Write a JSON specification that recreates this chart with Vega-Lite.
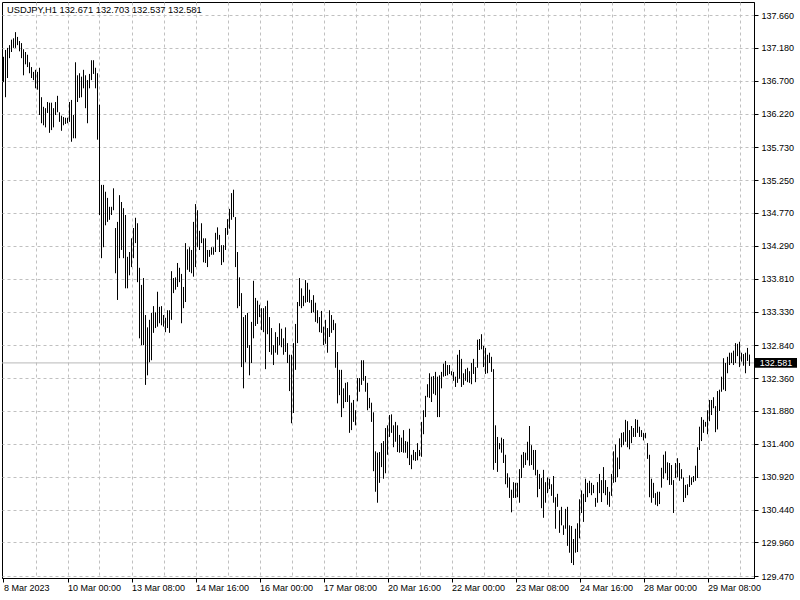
{
"$schema":"https://vega.github.io/schema/vega-lite/v6.json",
"width":752,"height":576,
"autosize":{"type":"none"},
"padding":{"left":2,"top":2,"right":46,"bottom":22},
"background":"white",
"config":{"view":{"stroke":"black","strokeWidth":1},"font":"Liberation Sans"},
"title":{"text":"USDJPY,H1  132.671 132.703 132.537 132.581","anchor":"start","frame":"group","orient":"top","offset":-13,"dx":5,"fontSize":9.3,"fontWeight":"normal","color":"black","font":"Liberation Sans"},
"datasets":{"bars":[
{"i":0,"h":137.05,"l":136.68},{"i":1,"h":137.15,"l":136.46},{"i":2,"h":137.18,"l":136.74},{"i":3,"h":137.22,"l":137.03},{"i":4,"h":137.30,"l":137.12},{"i":5,"h":137.32,"l":137.18},{"i":6,"h":137.41,"l":137.18},{"i":7,"h":137.34,"l":137.22},{"i":8,"h":137.28,"l":137.13},{"i":9,"h":137.25,"l":137.03},
{"i":10,"h":137.16,"l":136.78},{"i":11,"h":137.12,"l":136.94},{"i":12,"h":137.08,"l":136.90},{"i":13,"h":136.97,"l":136.81},{"i":14,"h":136.90,"l":136.74},{"i":15,"h":136.83,"l":136.71},{"i":16,"h":136.86,"l":136.59},{"i":17,"h":136.83,"l":136.57},{"i":18,"h":136.89,"l":136.20},{"i":19,"h":136.46,"l":136.08},
{"i":20,"h":136.32,"l":136.05},{"i":21,"h":136.30,"l":136.02},{"i":22,"h":136.39,"l":136.23},{"i":23,"h":136.38,"l":135.94},{"i":24,"h":136.38,"l":135.98},{"i":25,"h":136.30,"l":136.02},{"i":26,"h":136.39,"l":136.20},{"i":27,"h":136.48,"l":136.24},{"i":28,"h":136.24,"l":136.10},{"i":29,"h":136.19,"l":135.97},
{"i":30,"h":136.17,"l":136.05},{"i":31,"h":136.16,"l":136.07},{"i":32,"h":136.16,"l":136.08},{"i":33,"h":136.39,"l":136.10},{"i":34,"h":136.42,"l":135.81},{"i":35,"h":136.20,"l":135.86},{"i":36,"h":136.97,"l":135.86},{"i":37,"h":136.78,"l":136.39},{"i":38,"h":136.81,"l":136.45},{"i":39,"h":136.76,"l":136.46},
{"i":40,"h":136.86,"l":136.59},{"i":41,"h":136.78,"l":136.30},{"i":42,"h":136.71,"l":136.08},{"i":43,"h":136.80,"l":136.59},{"i":44,"h":137.00,"l":136.71},{"i":45,"h":137.00,"l":136.80},{"i":46,"h":136.89,"l":136.59},{"i":47,"h":136.81,"l":135.84},{"i":48,"h":136.35,"l":134.74},{"i":49,"h":135.18,"l":134.11},
{"i":50,"h":135.18,"l":134.27},{"i":51,"h":135.08,"l":134.59},{"i":52,"h":134.99,"l":134.64},{"i":53,"h":134.86,"l":134.67},{"i":54,"h":134.86,"l":134.74},{"i":55,"h":135.13,"l":134.81},{"i":56,"h":134.55,"l":133.89},{"i":57,"h":134.64,"l":133.50},{"i":58,"h":135.03,"l":134.11},{"i":59,"h":134.93,"l":134.23},
{"i":60,"h":134.84,"l":134.11},{"i":61,"h":134.74,"l":133.67},{"i":62,"h":134.13,"l":133.67},{"i":63,"h":134.20,"l":133.86},{"i":64,"h":134.40,"l":133.98},{"i":65,"h":134.55,"l":134.11},{"i":66,"h":134.70,"l":134.33},{"i":67,"h":134.62,"l":133.76},{"i":68,"h":133.97,"l":132.94},{"i":69,"h":133.72,"l":132.84},
{"i":70,"h":133.82,"l":132.84},{"i":71,"h":133.28,"l":132.26},{"i":72,"h":133.10,"l":132.40},{"i":73,"h":133.21,"l":132.59},{"i":74,"h":133.31,"l":132.62},{"i":75,"h":133.41,"l":133.02},{"i":76,"h":133.32,"l":133.09},{"i":77,"h":133.62,"l":133.11},{"i":78,"h":133.40,"l":133.16},{"i":79,"h":133.41,"l":133.13},
{"i":80,"h":133.28,"l":133.11},{"i":81,"h":133.24,"l":133.03},{"i":82,"h":133.35,"l":133.09},{"i":83,"h":133.35,"l":133.02},{"i":84,"h":133.92,"l":133.21},{"i":85,"h":133.82,"l":133.60},{"i":86,"h":133.83,"l":133.65},{"i":87,"h":134.04,"l":133.69},{"i":88,"h":133.97,"l":133.76},{"i":89,"h":133.88,"l":133.16},
{"i":90,"h":133.69,"l":133.38},{"i":91,"h":134.33,"l":133.47},{"i":92,"h":134.24,"l":133.94},{"i":93,"h":134.27,"l":133.91},{"i":94,"h":134.23,"l":133.89},{"i":95,"h":134.64,"l":133.84},{"i":96,"h":134.90,"l":133.98},{"i":97,"h":134.81,"l":134.27},{"i":98,"h":134.51,"l":134.23},{"i":99,"h":134.62,"l":134.33},
{"i":100,"h":134.40,"l":134.05},{"i":101,"h":134.40,"l":134.04},{"i":102,"h":134.23,"l":133.98},{"i":103,"h":134.23,"l":134.13},{"i":104,"h":134.27,"l":134.16},{"i":105,"h":134.27,"l":134.16},{"i":106,"h":134.48,"l":134.20},{"i":107,"h":134.56,"l":134.38},{"i":108,"h":134.45,"l":134.20},{"i":109,"h":134.30,"l":134.01},
{"i":110,"h":134.30,"l":134.05},{"i":111,"h":134.55,"l":134.23},{"i":112,"h":134.68,"l":134.45},{"i":113,"h":134.83,"l":134.54},{"i":114,"h":135.06,"l":134.67},{"i":115,"h":135.11,"l":134.71},{"i":116,"h":134.71,"l":133.98},{"i":117,"h":134.20,"l":133.38},{"i":118,"h":133.83,"l":133.41},{"i":119,"h":133.60,"l":132.52},
{"i":120,"h":133.25,"l":132.21},{"i":121,"h":133.28,"l":132.59},{"i":122,"h":133.31,"l":132.80},{"i":123,"h":132.84,"l":132.40},{"i":124,"h":133.18,"l":132.58},{"i":125,"h":133.78,"l":132.94},{"i":126,"h":133.53,"l":133.12},{"i":127,"h":133.49,"l":133.15},{"i":128,"h":133.43,"l":133.25},{"i":129,"h":133.38,"l":133.06},
{"i":130,"h":133.38,"l":133.03},{"i":131,"h":133.41,"l":132.49},{"i":132,"h":133.49,"l":133.00},{"i":133,"h":133.25,"l":132.74},{"i":134,"h":133.09,"l":132.70},{"i":135,"h":132.84,"l":132.55},{"i":136,"h":133.03,"l":132.73},{"i":137,"h":132.96,"l":132.70},{"i":138,"h":133.16,"l":132.84},{"i":139,"h":133.08,"l":132.81},
{"i":140,"h":132.94,"l":132.70},{"i":141,"h":133.10,"l":132.74},{"i":142,"h":132.87,"l":132.58},{"i":143,"h":132.70,"l":132.17},{"i":144,"h":132.70,"l":131.70},{"i":145,"h":132.87,"l":131.85},{"i":146,"h":133.15,"l":132.48},{"i":147,"h":133.47,"l":132.87},{"i":148,"h":133.82,"l":133.41},{"i":149,"h":133.67,"l":133.38},
{"i":150,"h":133.56,"l":133.41},{"i":151,"h":133.79,"l":133.46},{"i":152,"h":133.75,"l":133.47},{"i":153,"h":133.65,"l":133.46},{"i":154,"h":133.50,"l":133.31},{"i":155,"h":133.57,"l":133.32},{"i":156,"h":133.46,"l":133.18},{"i":157,"h":133.35,"l":133.16},{"i":158,"h":133.25,"l":133.03},{"i":159,"h":133.34,"l":133.02},
{"i":160,"h":133.11,"l":132.84},{"i":161,"h":133.21,"l":132.86},{"i":162,"h":133.09,"l":132.73},{"i":163,"h":133.35,"l":132.96},{"i":164,"h":133.28,"l":133.02},{"i":165,"h":133.21,"l":133.06},{"i":166,"h":133.16,"l":132.51},{"i":167,"h":132.74,"l":131.99},{"i":168,"h":132.48,"l":132.11},{"i":169,"h":132.48,"l":131.79},
{"i":170,"h":132.21,"l":131.92},{"i":171,"h":132.29,"l":132.01},{"i":172,"h":132.30,"l":132.01},{"i":173,"h":132.11,"l":131.56},{"i":174,"h":132.00,"l":131.60},{"i":175,"h":132.04,"l":131.72},{"i":176,"h":131.89,"l":131.67},{"i":177,"h":132.36,"l":132.02},{"i":178,"h":132.36,"l":132.16},{"i":179,"h":132.62,"l":132.26},
{"i":180,"h":132.62,"l":132.32},{"i":181,"h":132.39,"l":132.16},{"i":182,"h":132.29,"l":131.89},{"i":183,"h":132.07,"l":131.92},{"i":184,"h":132.00,"l":131.72},{"i":185,"h":131.86,"l":131.00},{"i":186,"h":131.29,"l":130.70},{"i":187,"h":131.27,"l":130.54},{"i":188,"h":131.28,"l":130.83},{"i":189,"h":131.41,"l":131.06},
{"i":190,"h":131.44,"l":130.89},{"i":191,"h":131.63,"l":130.97},{"i":192,"h":131.67,"l":131.24},{"i":193,"h":131.82,"l":131.50},{"i":194,"h":131.83,"l":131.56},{"i":195,"h":131.67,"l":131.35},{"i":196,"h":131.72,"l":131.43},{"i":197,"h":131.67,"l":131.28},{"i":198,"h":131.53,"l":131.27},{"i":199,"h":131.49,"l":131.28},
{"i":200,"h":131.60,"l":131.27},{"i":201,"h":131.44,"l":131.27},{"i":202,"h":131.43,"l":131.19},{"i":203,"h":131.62,"l":131.09},{"i":204,"h":131.24,"l":131.03},{"i":205,"h":131.31,"l":131.16},{"i":206,"h":131.28,"l":131.15},{"i":207,"h":131.41,"l":131.16},{"i":208,"h":131.31,"l":131.22},{"i":209,"h":131.72,"l":131.21},
{"i":210,"h":131.89,"l":131.54},{"i":211,"h":132.10,"l":131.79},{"i":212,"h":132.27,"l":132.08},{"i":213,"h":132.43,"l":132.07},{"i":214,"h":132.38,"l":132.01},{"i":215,"h":132.39,"l":132.13},{"i":216,"h":132.45,"l":132.11},{"i":217,"h":132.38,"l":131.79},{"i":218,"h":132.40,"l":131.79},{"i":219,"h":132.45,"l":132.21},
{"i":220,"h":132.57,"l":132.38},{"i":221,"h":132.61,"l":132.39},{"i":222,"h":132.55,"l":132.40},{"i":223,"h":132.55,"l":132.42},{"i":224,"h":132.46,"l":132.40},{"i":225,"h":132.45,"l":132.32},{"i":226,"h":132.38,"l":132.23},{"i":227,"h":132.70,"l":132.29},{"i":228,"h":132.77,"l":132.35},{"i":229,"h":132.64,"l":132.23},
{"i":230,"h":132.43,"l":132.26},{"i":231,"h":132.49,"l":132.32},{"i":232,"h":132.51,"l":132.30},{"i":233,"h":132.46,"l":132.29},{"i":234,"h":132.58,"l":132.27},{"i":235,"h":132.64,"l":132.42},{"i":236,"h":132.52,"l":132.30},{"i":237,"h":132.92,"l":132.51},{"i":238,"h":132.93,"l":132.77},{"i":239,"h":133.00,"l":132.78},
{"i":240,"h":132.83,"l":132.52},{"i":241,"h":132.80,"l":132.42},{"i":242,"h":132.70,"l":132.43},{"i":243,"h":132.73,"l":132.58},{"i":244,"h":132.67,"l":132.45},{"i":245,"h":132.49,"l":131.02},{"i":246,"h":131.67,"l":131.12},{"i":247,"h":131.50,"l":130.99},{"i":248,"h":131.41,"l":131.32},{"i":249,"h":131.49,"l":131.27},
{"i":250,"h":131.47,"l":131.12},{"i":251,"h":131.24,"l":130.81},{"i":252,"h":130.97,"l":130.76},{"i":253,"h":130.91,"l":130.61},{"i":254,"h":130.73,"l":130.40},{"i":255,"h":130.84,"l":130.61},{"i":256,"h":130.83,"l":130.61},{"i":257,"h":130.83,"l":130.62},{"i":258,"h":131.03,"l":130.54},{"i":259,"h":131.24,"l":130.90},
{"i":260,"h":131.28,"l":131.05},{"i":261,"h":131.27,"l":131.09},{"i":262,"h":131.43,"l":131.16},{"i":263,"h":131.66,"l":131.08},{"i":264,"h":131.38,"l":131.09},{"i":265,"h":131.31,"l":131.02},{"i":266,"h":131.31,"l":130.94},{"i":267,"h":131.02,"l":130.62},{"i":268,"h":130.96,"l":130.74},{"i":269,"h":130.90,"l":130.46},
{"i":270,"h":131.02,"l":130.32},{"i":271,"h":130.84,"l":130.54},{"i":272,"h":130.91,"l":130.68},{"i":273,"h":130.89,"l":130.74},{"i":274,"h":130.81,"l":130.64},{"i":275,"h":130.93,"l":130.54},{"i":276,"h":130.62,"l":130.16},{"i":277,"h":130.67,"l":130.48},{"i":278,"h":130.43,"l":130.10},{"i":279,"h":130.48,"l":130.21},
{"i":280,"h":130.21,"l":130.07},{"i":281,"h":130.45,"l":130.16},{"i":282,"h":130.48,"l":129.91},{"i":283,"h":130.21,"l":129.81},{"i":284,"h":130.20,"l":129.66},{"i":285,"h":130.01,"l":129.63},{"i":286,"h":130.16,"l":129.81},{"i":287,"h":130.24,"l":129.82},{"i":288,"h":130.59,"l":130.02},{"i":289,"h":130.72,"l":130.39},
{"i":290,"h":130.67,"l":130.26},{"i":291,"h":130.89,"l":130.55},{"i":292,"h":130.83,"l":130.62},{"i":293,"h":130.86,"l":130.68},{"i":294,"h":130.83,"l":130.65},{"i":295,"h":130.80,"l":130.68},{"i":296,"h":130.61,"l":130.48},{"i":297,"h":130.84,"l":130.54},{"i":298,"h":130.96,"l":130.68},{"i":299,"h":130.87,"l":130.55},
{"i":300,"h":131.06,"l":130.68},{"i":301,"h":130.87,"l":130.65},{"i":302,"h":130.77,"l":130.51},{"i":303,"h":130.70,"l":130.48},{"i":304,"h":130.96,"l":130.64},{"i":305,"h":131.29,"l":130.83},{"i":306,"h":131.39,"l":130.84},{"i":307,"h":131.20,"l":130.91},{"i":308,"h":131.48,"l":131.03},{"i":309,"h":131.56,"l":131.35},
{"i":310,"h":131.57,"l":131.38},{"i":311,"h":131.75,"l":131.43},{"i":312,"h":131.73,"l":131.35},{"i":313,"h":131.60,"l":131.32},{"i":314,"h":131.66,"l":131.41},{"i":315,"h":131.63,"l":131.50},{"i":316,"h":131.76,"l":131.50},{"i":317,"h":131.75,"l":131.56},{"i":318,"h":131.65,"l":131.50},{"i":319,"h":131.60,"l":131.50},
{"i":320,"h":131.56,"l":131.45},{"i":321,"h":131.56,"l":131.48},{"i":322,"h":131.41,"l":131.18},{"i":323,"h":131.24,"l":130.62},{"i":324,"h":130.89,"l":130.54},{"i":325,"h":130.83,"l":130.61},{"i":326,"h":130.68,"l":130.51},{"i":327,"h":130.70,"l":130.49},{"i":328,"h":130.70,"l":130.52},{"i":329,"h":131.05,"l":130.76},
{"i":330,"h":131.24,"l":130.89},{"i":331,"h":131.29,"l":130.97},{"i":332,"h":131.13,"l":130.87},{"i":333,"h":131.12,"l":130.80},{"i":334,"h":131.09,"l":130.80},{"i":335,"h":130.87,"l":130.39},{"i":336,"h":131.12,"l":130.90},{"i":337,"h":131.19,"l":130.91},{"i":338,"h":131.12,"l":130.86},{"i":339,"h":131.03,"l":130.89},
{"i":340,"h":130.91,"l":130.55},{"i":341,"h":130.80,"l":130.61},{"i":342,"h":130.81,"l":130.65},{"i":343,"h":130.94,"l":130.77},{"i":344,"h":130.91,"l":130.80},{"i":345,"h":130.93,"l":130.84},{"i":346,"h":131.08,"l":130.86},{"i":347,"h":131.35,"l":130.90},{"i":348,"h":131.65,"l":131.31},{"i":349,"h":131.79,"l":131.44},
{"i":350,"h":131.75,"l":131.56},{"i":351,"h":131.72,"l":131.65},{"i":352,"h":131.89,"l":131.54},{"i":353,"h":132.04,"l":131.73},{"i":354,"h":132.04,"l":131.82},{"i":355,"h":132.08,"l":131.92},{"i":356,"h":131.95,"l":131.57},{"i":357,"h":132.17,"l":131.61},{"i":358,"h":132.19,"l":131.88},{"i":359,"h":132.38,"l":132.16},
{"i":360,"h":132.65,"l":132.19},{"i":361,"h":132.58,"l":132.17},{"i":362,"h":132.67,"l":132.43},{"i":363,"h":132.73,"l":132.55},{"i":364,"h":132.73,"l":132.58},{"i":365,"h":132.76,"l":132.55},{"i":366,"h":132.87,"l":132.58},{"i":367,"h":132.86,"l":132.68},{"i":368,"h":132.89,"l":132.52},{"i":369,"h":132.73,"l":132.60},
{"i":370,"h":132.71,"l":132.54},{"i":371,"h":132.73,"l":132.43},{"i":372,"h":132.80,"l":132.61},{"i":373,"h":132.703,"l":132.537}
],"last":[{"p":132.581,"lbl":"132.581"}]},
"layer":[
{"data":{"name":"last"},"mark":{"type":"rule","color":"#b8b8b8","strokeWidth":1},
 "encoding":{"y":{"field":"p","type":"quantitative"}}},
{"data":{"name":"bars"},"mark":{"type":"rule","color":"black","strokeWidth":1},
 "encoding":{
  "x":{"field":"i","type":"quantitative","scale":{"domain":[-0.75,375.25],"nice":false,"zero":false},
   "axis":{"title":null,"tickCount":100,"values":[0,16,32,48,64,80,96,112,128,144,160,176,192,208,224,240,256,272,288,304,320,336,352,368],
    "grid":true,"gridDash":[3,3],"gridColor":"#c0c0c0","gridWidth":1,
    "gridOpacity":{"condition":{"test":"datum.value === 0","value":0},"value":1},
    "domain":true,"domainColor":"black","tickColor":"black","tickSize":4,
    "tickOpacity":{"condition":{"test":"datum.value % 32 === 0","value":1},"value":0},
    "labelExpr":"datum.value % 32 === 0 ? ['8 Mar 2023','10 Mar 00:00','13 Mar 08:00','14 Mar 16:00','16 Mar 00:00','17 Mar 08:00','20 Mar 16:00','22 Mar 00:00','23 Mar 08:00','24 Mar 16:00','28 Mar 00:00','29 Mar 08:00'][datum.value/32] : ''",
    "labelAlign":"left","labelPadding":1,"labelFontSize":9,"labelColor":"black","labelFont":"Liberation Sans","labelFlush":false,"labelOverlap":false,"labelBound":false}},
  "y":{"field":"h","type":"quantitative","scale":{"domain":[129.441,137.85],"nice":false,"zero":false},
   "axis":{"title":null,"orient":"right","tickCount":100,"values":[129.47,129.96,130.44,130.92,131.40,131.88,132.36,132.84,133.33,133.81,134.29,134.77,135.25,135.73,136.22,136.70,137.18,137.66],
    "format":".3f","grid":true,"gridDash":[3,3],"gridColor":"#c0c0c0","gridWidth":1,
    "domainColor":"black","tickColor":"black","tickSize":4,"labelPadding":3,"labelFontSize":9,"labelColor":"black","labelFont":"Liberation Sans","labelOverlap":false,"labelFlush":false,"labelBound":false}},
  "y2":{"field":"l"}}},
{"data":{"name":"last"},"mark":{"type":"rect","color":"black"},
 "encoding":{"x":{"datum":375.75,"type":"quantitative"},"x2":{"datum":396.75},
  "y":{"datum":132.652,"type":"quantitative"},"y2":{"datum":132.51}}},
{"data":{"name":"last"},"mark":{"type":"text","color":"white","align":"center","baseline":"middle","fontSize":9,"font":"Liberation Sans"},
 "encoding":{"x":{"datum":386.25,"type":"quantitative"},"y":{"field":"p","type":"quantitative"},"text":{"field":"lbl"}}}
]
}
